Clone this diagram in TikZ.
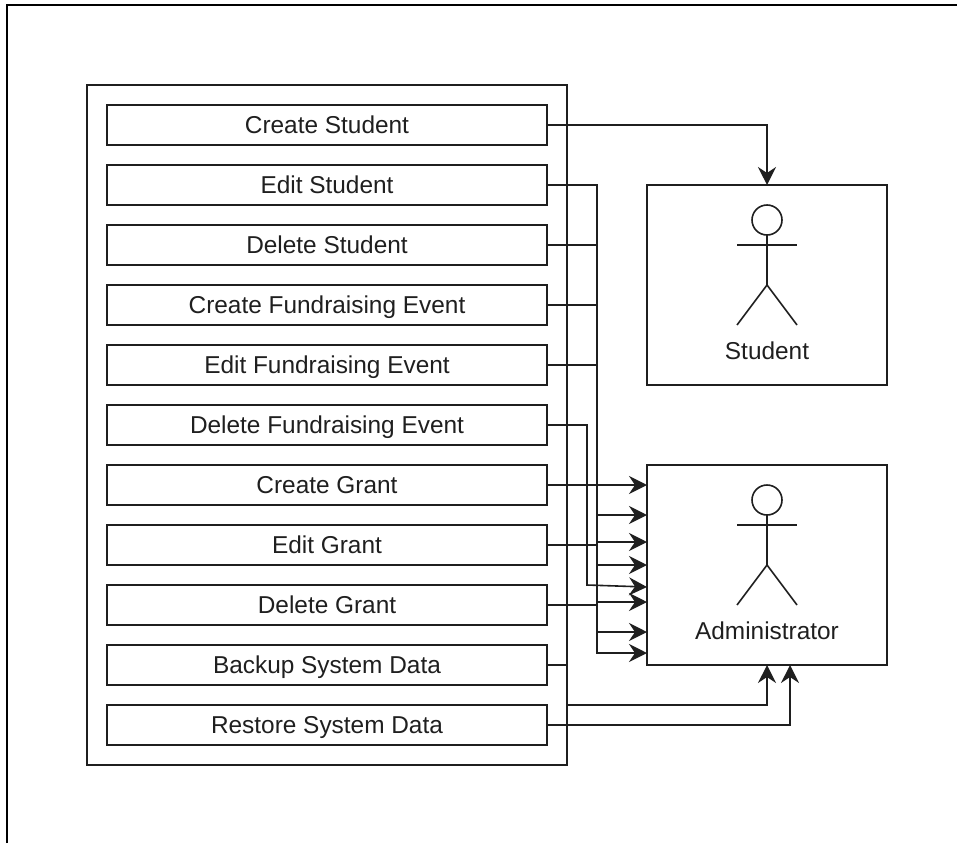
\documentclass[tikz,border=0pt]{standalone}
\usepackage{fontspec}
\setmainfont{Liberation Sans}
\usetikzlibrary{arrows.meta}
\tikzset{
  every picture/.style={x=1pt, y=-1pt, line width=1.6pt, color=black!88},
  action/.style={draw, minimum width=440pt, minimum height=40pt, inner sep=0pt, outer sep=0pt, text height=19pt, text depth=3pt, font=\fontsize{24.4}{28}\selectfont},
  holder/.style={draw, minimum width=240pt, minimum height=200pt, inner sep=0pt, outer sep=0pt},
  label/.style={font=\fontsize{24.4}{28}\selectfont},
  head/.style={draw, circle, minimum size=30pt, inner sep=0pt, outer sep=0pt},
  conn/.style={-{Stealth[length=18pt, width=18pt, inset=6pt]}},
}
\begin{document}
\begin{tikzpicture}
    \useasboundingbox (0, 0) rectangle (957, 843);
    \draw[line width=2pt, black] (7, 843) -- (7, 5) -- (957, 5);
    \node[draw, minimum width=480pt, minimum height=680pt, inner sep=0pt, outer sep=0pt] (panel) at (327, 425) {};

    \node[action] (createstudent) at (327, 125) {Create Student};
    \node[action] (editstudent) at (327, 185) {Edit Student};
    \node[action] (deletestudent) at (327, 245) {Delete Student};
    \node[action] (createevent) at (327, 305) {Create Fundraising Event};
    \node[action] (editevent) at (327, 365) {Edit Fundraising Event};
    \node[action] (deleteevent) at (327, 425) {Delete Fundraising Event};
    \node[action] (creategrant) at (327, 485) {Create Grant};
    \node[action] (editgrant) at (327, 545) {Edit Grant};
    \node[action] (deletegrant) at (327, 605) {Delete Grant};
    \node[action] (backup) at (327, 665) {Backup System Data};
    \node[action] (restore) at (327, 725) {Restore System Data};

    \node[holder] (student) at (767, 285) {};
    \node[holder] (admin) at (767, 565) {};

    % actors
    \node[head] (shead) at (767, 220) {};
    \draw (shead.south) -- (767, 285) coordinate (ship);
    \draw (737, 245) -- (797, 245);
    \draw (737, 325) -- (ship) -- (797, 325);
    \node[label] (sname) at (767, 351) {Student};

    \node[head] (ahead) at (767, 500) {};
    \draw (ahead.south) -- (767, 565) coordinate (ahip);
    \draw (737, 525) -- (797, 525);
    \draw (737, 605) -- (ahip) -- (797, 605);
    \node[label] (aname) at (767, 631) {Administrator};

    \draw[conn] (createstudent.east) -| (student.north);

    \draw[conn] (editstudent.east) -- ++(50, 0) |- ([yshift=-88pt]admin.west);
    \draw[conn] (deletestudent.east) -- ++(50, 0) |- ([yshift=-67pt]admin.west);
    \draw[conn] (createevent.east) -- ++(50, 0) |- (admin.west);
    \draw[conn] (editevent.east) -- ++(50, 0) |- ([yshift=50pt]admin.west);
    \draw[conn] (deleteevent.east) -- ++(40, 0) -- ++(0, 160) -- ([yshift=-22pt]admin.west);
    \draw[conn] (creategrant.east) -- (creategrant.east -| admin.west);
    \draw[conn] (editgrant.east) -- ++(50, 0) |- ([yshift=23pt]admin.west);
    \draw[conn] (deletegrant.east) -- ++(50, 0) |- ([yshift=-37pt]admin.west);
    \draw[conn] (backup.east) -- ++(20, 0) -- ++(0, 40) -| (admin.south);
    \draw[conn] (restore.east) -| ([xshift=23pt]admin.south);
\end{tikzpicture}
\end{document}
